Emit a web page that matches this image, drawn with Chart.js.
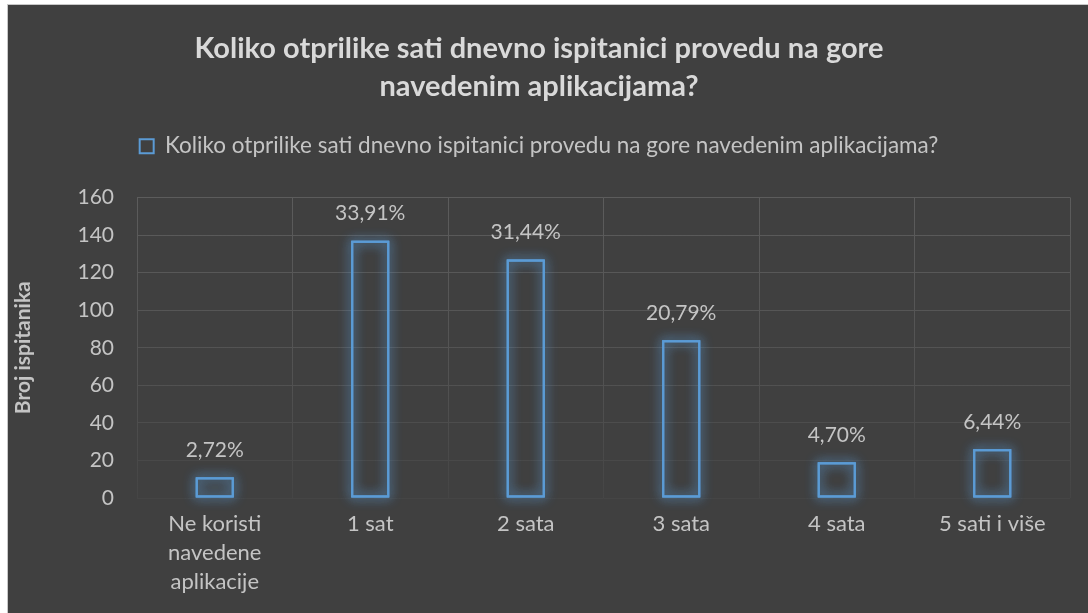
<!DOCTYPE html>
<html>
<head>
<meta charset="utf-8">
<script src="https://cdn.jsdelivr.net/npm/chart.js@4.4.1/dist/chart.umd.min.js"></script>
<style>
  html, body { margin: 0; padding: 0; background: #ffffff; }
  #wrap {
    position: absolute; left: 7px; top: 4px;
    width: 1080px; height: 608px;
    border-left: 1px solid #c8c8c8; border-top: 1px solid #c8c8c8;
    background: #404040;
  }
  canvas { display: block; }
</style>
</head>
<body>
<div id="wrap"><canvas id="chart" width="1080" height="608"></canvas></div>
<script>
const TITLE = ['Koliko otprilike sati dnevno ispitanici provedu na gore', 'navedenim aplikacijama?'];
const SERIES_NAME = 'Koliko otprilike sati dnevno ispitanici provedu na gore navedenim aplikacijama?';
const categories = [['Ne koristi', 'navedene', 'aplikacije'], '1 sat', '2 sata', '3 sata', '4 sata', '5 sati i više'];
const counts = [11, 137, 127, 84, 19, 26];
const yTicks = [0, 20, 40, 60, 80, 100, 120, 140, 160];

const total = counts.reduce((a, b) => a + b, 0);
const pct = v => (v / total * 100).toFixed(2).replace('.', ',') + '%';

const BLUE = '#5b9bd5';
const TEXT = '#c4c4c4';
const FONT = 'Lato, Calibri, "Open Sans", sans-serif';

// give the legend some extra room underneath before the plot starts
const legendSpace = {
  id: 'legendSpace',
  beforeInit(chart) {
    const fit = chart.legend.fit;
    chart.legend.fit = function () {
      fit.bind(chart.legend)();
      this.height += 30;
    };
  }
};

// soft blue halo behind each bar outline + percentage labels on top
const glow = {
  id: 'glow',
  beforeDatasetsDraw(chart) {
    const c = chart.ctx;
    const meta = chart.getDatasetMeta(0);
    c.save();
    c.strokeStyle = BLUE;
    c.lineWidth = 2;
    c.shadowColor = 'rgba(91,155,213,0.9)';
    c.shadowBlur = 12;
    meta.data.forEach(bar => {
      const p = bar.getProps(['x', 'y', 'base', 'width'], true);
      for (let k = 0; k < 2; k++) {
        c.strokeRect(p.x - p.width / 2 + 1, p.y + 1, p.width - 2, p.base - p.y - 2);
      }
    });
    c.restore();
  },
  afterDatasetsDraw(chart) {
    const c = chart.ctx;
    const meta = chart.getDatasetMeta(0);
    c.save();
    c.fillStyle = TEXT;
    c.font = '21px ' + FONT;
    c.textAlign = 'center';
    c.textBaseline = 'middle';
    meta.data.forEach((bar, i) => {
      c.fillText(pct(counts[i]), bar.x, bar.y - 27);
    });
    c.restore();
  }
};

function gridColor(ctx) {
  const chart = ctx.chart;
  const a = chart.chartArea;
  if (!a) return '#555';
  const g = chart.ctx.createLinearGradient(0, a.top, 0, a.bottom);
  g.addColorStop(0, '#5c5c5c');
  g.addColorStop(0.6, '#525252');
  g.addColorStop(1, '#454545');
  return g;
}

new Chart(document.getElementById('chart'), {
  type: 'bar',
  data: {
    labels: categories,
    datasets: [{
      label: SERIES_NAME,
      data: counts,
      backgroundColor: 'rgba(0,0,0,0)',
      borderColor: BLUE,
      borderWidth: 2,
      borderSkipped: false,
      categoryPercentage: 0.5,
      barPercentage: 0.49
    }]
  },
  options: {
    responsive: false,
    animation: false,
    layout: { padding: { top: 0, left: 0, right: 18, bottom: 0 } },
    plugins: {
      tooltip: { enabled: false },
      title: {
        display: true,
        text: TITLE,
        color: '#d9d9d9',
        font: { family: FONT, size: 29, weight: 'bold', lineHeight: 1.31 },
        padding: { top: 25, bottom: 0 }
      },
      legend: {
        display: true,
        labels: {
          color: TEXT,
          font: { family: FONT, size: 22.5 },
          boxWidth: 14,
          boxHeight: 14,
          padding: 29,
          generateLabels: chart => [{
            text: SERIES_NAME,
            fillStyle: 'rgba(0,0,0,0)',
            strokeStyle: BLUE,
            lineWidth: 2,
            fontColor: TEXT,
            datasetIndex: 0
          }]
        }
      }
    },
    scales: {
      x: {
        afterFit: s => { s.height = 115; },
        grid: { color: gridColor, drawTicks: false, offset: true },
        border: { display: false },
        ticks: {
          color: TEXT,
          padding: 12,
          font: { family: FONT, size: 22, lineHeight: 1.3 }
        }
      },
      y: {
        min: 0,
        max: 160,
        afterFit: s => { s.width = 129; },
        afterBuildTicks: s => { s.ticks = yTicks.map(v => ({ value: v })); },
        grid: { color: gridColor, drawTicks: false },
        border: { display: false },
        ticks: {
          color: TEXT,
          padding: 23,
          font: { family: FONT, size: 21 }
        },
        title: {
          display: true,
          text: 'Broj ispitanika',
          color: TEXT,
          font: { family: FONT, size: 21, weight: 'bold' },
          padding: { top: 3, bottom: 0 }
        }
      }
    }
  },
  plugins: [legendSpace, glow]
});
</script>
</body>
</html>
